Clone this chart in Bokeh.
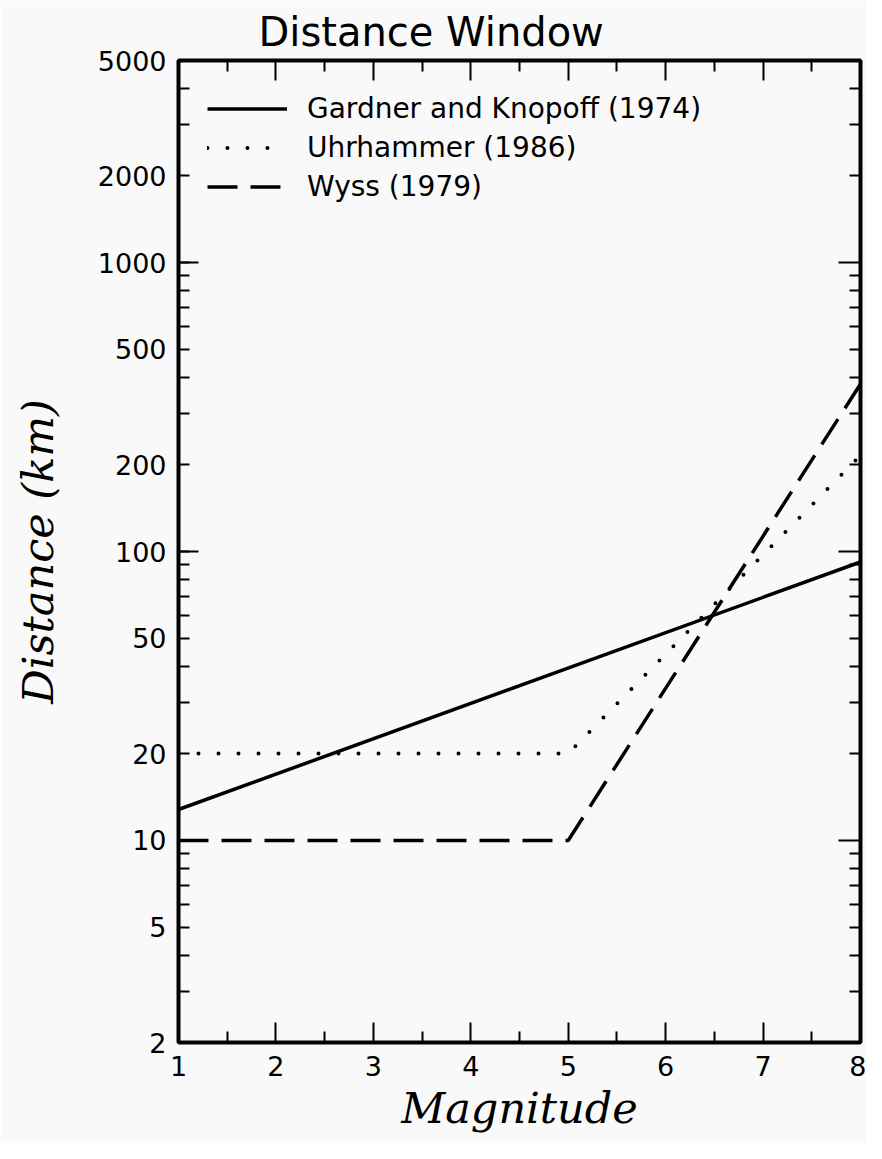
from bokeh.plotting import figure
from bokeh.models import Range1d, LinearAxis, LogAxis, FixedTicker, Legend, LegendItem
from bokeh.embed import file_html
from bokeh.resources import INLINE

# ---- data ----
mag_gk = [1, 8]
dist_gk = [12.8, 92]
mag_uh = [1, 5, 8]
dist_uh = [20, 20, 215]
mag_wy = [1, 5, 8]
dist_wy = [10, 10, 380]

series_names = ["Gardner and Knopoff (1974)", "Uhrhammer (1986)", "Wyss (1979)"]

x_major = [1, 2, 3, 4, 5, 6, 7, 8]
x_minor = [1.5, 2.5, 3.5, 4.5, 5.5, 6.5, 7.5]
y_labeled = [2, 5, 10, 20, 50, 100, 200, 500, 1000, 2000, 5000]
y_decades = [10, 100, 1000]
y_all = [2, 3, 4, 5, 6, 7, 8, 9, 10, 20, 30, 40, 50, 60, 70, 80, 90, 100,
         200, 300, 400, 500, 600, 700, 800, 900, 1000, 2000, 3000, 4000, 5000]

BG = "#f9f9f9"
TICK_FONT = "DejaVu Sans"
LABEL_FONT = "DejaVu Serif"

p = figure(frame_width=682, frame_height=982,
           x_range=Range1d(1, 8), y_range=Range1d(2, 5000),
           y_axis_type="log", x_axis_location=None, y_axis_location=None,
           output_backend="svg", toolbar_location=None,
           min_border_left=178, min_border_right=6, min_border_top=60,
           min_border_bottom=101)
p.background_fill_color = BG
p.border_fill_color = BG
p.grid.visible = False
p.outline_line_color = "black"
p.outline_line_width = 4

p.title.text = "Distance Window"
p.title.text_font = TICK_FONT
p.title.text_font_style = "normal"
p.title.text_font_size = "40px"
p.title.text_color = "black"
p.title.align = "left"
p.title.offset = 80
p.title.standoff = 12


def style_axis(ax, tick_in_major, tick_in_minor, show_labels):
    ax.axis_line_color = None
    ax.major_tick_out = 0
    ax.minor_tick_out = 0
    ax.major_tick_in = tick_in_major
    ax.minor_tick_in = tick_in_minor
    ax.major_tick_line_width = 2
    ax.minor_tick_line_width = 2
    ax.major_tick_line_color = "black"
    ax.minor_tick_line_color = "black"
    if show_labels:
        ax.major_label_text_font = TICK_FONT
        ax.major_label_text_font_size = "27px"
        ax.major_label_text_color = "black"
    else:
        ax.major_label_text_font_size = "1px"
        ax.major_label_text_alpha = 0
        ax.major_label_standoff = 0


# bottom axis
xb = LinearAxis(ticker=FixedTicker(ticks=x_major, minor_ticks=x_minor))
style_axis(xb, 20, 11, True)
xb.major_label_standoff = 13
xb.axis_label = "Magnitude"
xb.axis_label_text_font = LABEL_FONT
xb.axis_label_text_font_style = "italic"
xb.axis_label_text_font_size = "43px"
xb.axis_label_text_color = "black"
xb.axis_label_standoff = 4
p.add_layout(xb, "below")

# top axis (ticks only)
xt = LinearAxis(ticker=FixedTicker(ticks=x_major, minor_ticks=x_minor))
style_axis(xt, 20, 11, False)
p.add_layout(xt, "above")

# left axis
minor_left = [v for v in y_all if v not in y_labeled]
yl = LogAxis(ticker=FixedTicker(ticks=y_labeled, minor_ticks=minor_left))
style_axis(yl, 11, 11, True)
yl.major_label_standoff = 12
yl.axis_label = "Distance (km)"
yl.axis_label_text_font = LABEL_FONT
yl.axis_label_text_font_style = "italic"
yl.axis_label_text_font_size = "43px"
yl.axis_label_text_color = "black"
yl.axis_label_standoff = 32
p.add_layout(yl, "left")

# extra left axis: longer decade ticks drawn at the frame edge
yl2 = LogAxis(ticker=FixedTicker(ticks=y_decades, minor_ticks=[]),
              fixed_location=1)
style_axis(yl2, 20, 0, False)
p.add_layout(yl2, "left")

# right axis (ticks only)
minor_right = [v for v in y_all if v not in y_decades]
yr = LogAxis(ticker=FixedTicker(ticks=y_decades, minor_ticks=minor_right))
style_axis(yr, 22, 11, False)
p.add_layout(yr, "right")

r_gk = p.line(mag_gk, dist_gk, line_color="black", line_width=3.5)
r_uh = p.line(mag_uh, dist_uh, line_color="black", line_width=4,
              line_dash="0 20", line_cap="round")
r_wy = p.line(mag_wy, dist_wy, line_color="black", line_width=3.5,
              line_dash="30 13")

legend = Legend(items=[LegendItem(label=series_names[0], renderers=[r_gk]),
                       LegendItem(label=series_names[1], renderers=[r_uh]),
                       LegendItem(label=series_names[2], renderers=[r_wy])],
                location="top_left")
legend.background_fill_alpha = 0
legend.border_line_color = None
legend.label_text_font = TICK_FONT
legend.label_text_font_size = "28px"
legend.label_text_color = "black"
legend.glyph_width = 80
legend.glyph_height = 39
legend.label_height = 39
legend.label_standoff = 20
legend.spacing = 0
legend.margin = 29
legend.padding = 9
p.add_layout(legend, "center")

open("out.html", "w").write(file_html(p, INLINE))
